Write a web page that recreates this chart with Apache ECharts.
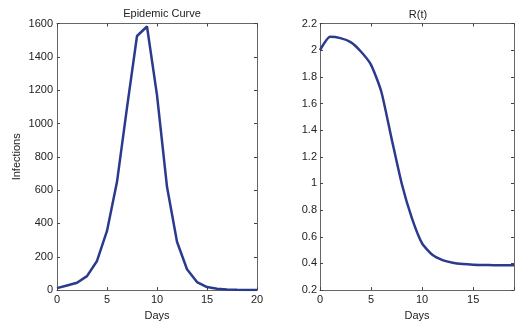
<!DOCTYPE html>
<html><head><meta charset="utf-8">
<script src="https://cdn.jsdelivr.net/npm/echarts@6/dist/echarts.min.js"></script>
<style>html,body{margin:0;padding:0;background:#fff}#c{width:517px;height:326px}</style>
</head><body><div id="c"></div>
<script>
const daysA = [0,1,2,3,4,5,6,7,8,9,10,11,12,13,14,15,16,17,18,19,20];
const infections = [12,28,44,84,175,355,650,1095,1525,1582,1170,620,290,125,48,18,8,4,2,1,1];
const daysB = [0,1,2,3,4,5,6,7,8,9,10,11,12,13,14,15,16,17,18,19];
const rt = [2.0,2.1,2.09,2.06,1.99,1.89,1.69,1.34,1.0,0.74,0.55,0.465,0.425,0.405,0.395,0.39,0.388,0.387,0.387,0.387];
const xTicksA = {min:0,max:20,interval:5};
const yTicksA = {min:0,max:1600,interval:200};
const xTicksB = {min:0,max:19,interval:5};
const yTicksB = {min:0.2,max:2.2,interval:0.2};

const font = 'Liberation Sans, Arial, sans-serif';
const txt = '#222';
const frame = '#666';
const lineColor = '#2a3a8c';

function axisBase(show){
  return {
    axisLine:{show:true,onZero:false,lineStyle:{color:frame,width:1}},
    axisTick:{show:true,inside:true,length:3,lineStyle:{color:'#444'}},
    axisLabel:{show:show,color:txt,fontFamily:font,fontSize:11,margin:4,formatter:function(v){return String(v);}},
    splitLine:{show:false}
  };
}
function mk(type,idx,pos,lim,show,extra){
  return Object.assign({type:'value',gridIndex:idx,position:pos,min:lim.min,max:lim.max,interval:lim.interval},axisBase(show),extra||{});
}

const chart = echarts.init(document.getElementById('c'),null,{renderer:'canvas'});
chart.setOption({
  animation:false,
  backgroundColor:'#fff',
  title:[
    {text:'Epidemic Curve',left:157,top:3,textAlign:'center',textStyle:{fontFamily:font,fontSize:11,fontWeight:'normal',color:txt}},
    {text:'R(t)',left:413,top:4,textAlign:'center',textStyle:{fontFamily:font,fontSize:11,fontWeight:'normal',color:txt}}
  ],
  grid:[
    {left:57,top:23.5,width:200,height:269,containLabel:false},
    {left:320,top:23.5,width:196,height:269.5,containLabel:false}
  ],
  xAxis:[
    mk('value',0,'bottom',xTicksA,true,{name:'Days',nameLocation:'middle',nameGap:19,nameTextStyle:{fontFamily:font,fontSize:11,color:txt}}),
    mk('value',0,'top',xTicksA,false),
    mk('value',1,'bottom',xTicksB,true,{name:'Days',nameLocation:'middle',nameGap:19,nameTextStyle:{fontFamily:font,fontSize:11,color:txt},axisLabel:{show:true,color:txt,fontFamily:font,fontSize:11,margin:4,formatter:function(v){return v===19?'':String(v);}}}),
    mk('value',1,'top',xTicksB,false)
  ],
  yAxis:[
    mk('value',0,'left',yTicksA,true,{name:'Infections',nameLocation:'middle',nameGap:35,nameTextStyle:{fontFamily:font,fontSize:11,color:txt}}),
    mk('value',0,'right',yTicksA,false),
    mk('value',1,'left',yTicksB,true,{axisLabel:{show:true,color:txt,fontFamily:font,fontSize:11,margin:3,formatter:function(v){return String(Math.round(v*10)/10);}}}),
    mk('value',1,'right',yTicksB,false)
  ],
  series:[
    {type:'line',xAxisIndex:0,yAxisIndex:0,data:daysA.map((d,i)=>[d,infections[i]]),showSymbol:false,lineStyle:{color:lineColor,width:2.5},clip:true},
    {type:'line',xAxisIndex:2,yAxisIndex:2,data:daysB.map((d,i)=>[d,rt[i]]),showSymbol:false,smooth:0.2,lineStyle:{color:lineColor,width:2.5},clip:true}
  ]
});
</script></body></html>
